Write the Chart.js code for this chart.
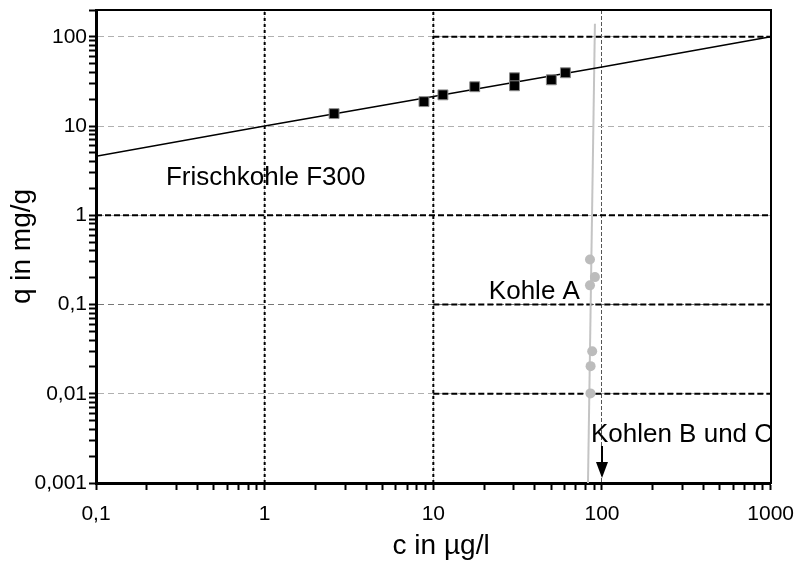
<!DOCTYPE html>
<html>
<head>
<meta charset="utf-8">
<script src="https://cdn.jsdelivr.net/npm/chart.js@4/dist/chart.umd.min.js"></script>
<style>
  html, body { margin: 0; padding: 0; background: #fff; }
  #wrap { width: 806px; height: 563px; }
</style>
</head>
<body>
<div id="wrap"><canvas id="c" width="806" height="563"></canvas></div>
<script>
// Adsorptionsisothermen: Beladung q (mg/g) über Konzentration c (µg/l)

// Frischkohle F300: Messwerte
const f300C = [2.58, 8.8, 11.4, 17.6, 30.3, 30.3, 50.1, 60.7];
const f300Q = [13.8, 18.8, 22.4, 27.6, 34.8, 28.3, 33.0, 39.6];
// Frischkohle F300: Freundlich-Isotherme
const f300FitC = [0.1, 1, 10, 100, 1000];
const f300FitQ = [4.6, 10, 21.5, 46, 100];

// Kohle A: Messwerte und Isotherme
const kohleAC = [84.9, 90.8, 84.9, 87.5, 85.6, 85.4];
const kohleAQ = [0.32, 0.203, 0.164, 0.030, 0.0204, 0.0101];
const kohleALineC = [82.6, 90.8];
const kohleALineQ = [0.001, 140];

// Hilfslinien (kräftig gestrichelt)
const hRefQ = [100, 1, 0.1, 0.01];
const hRefFromC = [10, 0.1, 10, 10];
const hRefToC = [1000, 1000, 1000, 1000];
const vRefC = [1, 10];

// Achsen
const xMin = 0.1, xMax = 1000;
const yMin = 0.001, yMax = 200;
const xTickValues = [0.1, 1, 10, 100, 1000];
const xTickLabels = ['0,1', '1', '10', '100', '1000'];
const yTickValues = [0.001, 0.01, 0.1, 1, 10, 100];
const yTickLabels = ['0,001', '0,01', '0,1', '1', '10', '100'];
const minorSteps = [2, 3, 4, 5, 6, 7, 8, 9];

// Beschriftungen im Diagramm
const noteTexts = ['Frischkohle F300', 'Kohle A', 'Kohlen B und C'];
const noteC = [0.26, 74, 86];
const noteQ = [2.6, 0.138, 0.00344];
const noteAlign = ['left', 'right', 'left'];
const arrowC = 100, arrowQFrom = 0.0026, arrowQTo = 0.00114;

const zip = (xs, ys) => xs.map((x, i) => ({x: x, y: ys[i]}));

function logTicks(majors, lo, hi) {
  const out = [];
  majors.forEach(m => {
    out.push(m);
    minorSteps.forEach(s => { const v = m * s; if (v <= hi * 1.0001) out.push(v); });
  });
  return out.filter(v => v >= lo * 0.9999 && v <= hi * 1.0001).sort((a, b) => a - b);
}
function isAt(v, list) { return list.some(t => Math.abs(Math.log10(v) - Math.log10(t)) < 1e-6); }
function labelFor(v, values, labels) {
  const i = values.findIndex(t => Math.abs(Math.log10(v) - Math.log10(t)) < 1e-6);
  return i >= 0 ? labels[i] : '';
}
// unbeschriftete Zwischenstriche bekommen eine winzige Schrift, damit sie keinen Rand beanspruchen
function tickFont(values) {
  return ctx => ({ family: FONT, size: (ctx.tick && isAt(ctx.tick.value, values)) ? 21 : 1 });
}

const FONT = '"Liberation Sans", Arial, Helvetica, sans-serif';

const datasets = [
  {
    label: 'F300 Messwerte', data: zip(f300C, f300Q), showLine: false,
    pointStyle: 'rect', pointRadius: 7, pointHoverRadius: 7,
    backgroundColor: '#000', borderColor: '#8a8a8a', borderWidth: 1, order: 0
  },
  {
    label: 'Kohle A Messwerte', data: zip(kohleAC, kohleAQ), showLine: false,
    pointStyle: 'circle', pointRadius: 5, pointHoverRadius: 5,
    backgroundColor: '#bcbcbc', borderColor: '#bcbcbc', borderWidth: 0, order: 1
  },
  {
    label: 'F300 Isotherme', data: zip(f300FitC, f300FitQ), showLine: true,
    pointRadius: 0, borderColor: '#000', borderWidth: 1.5, order: 2
  },
  {
    label: 'Kohle A Isotherme', data: zip(kohleALineC, kohleALineQ), showLine: true,
    pointRadius: 0, borderColor: '#c4c4c4', borderWidth: 2, order: 3
  }
];
hRefQ.forEach((q, i) => datasets.push({
  label: 'Hilfslinie q=' + q, data: zip([hRefFromC[i], hRefToC[i]], [q, q]), showLine: true,
  pointRadius: 0, borderColor: '#000', borderWidth: 2, borderDash: [6, 3], order: 10
}));
vRefC.forEach(c => datasets.push({
  label: 'Hilfslinie c=' + c, data: zip([c, c], [yMin, yMax]), showLine: true,
  pointRadius: 0, borderColor: '#000', borderWidth: 2, borderDash: [3, 3], order: 10
}));

const notesPlugin = {
  id: 'notes',
  afterDatasetsDraw(chart) {
    const {ctx, scales: {x, y}} = chart;
    ctx.save();
    ctx.fillStyle = '#000';
    ctx.font = '26px ' + FONT;
    ctx.textBaseline = 'middle';
    noteTexts.forEach((t, i) => {
      ctx.textAlign = noteAlign[i];
      ctx.fillText(t, x.getPixelForValue(noteC[i]), y.getPixelForValue(noteQ[i]));
    });
    // Pfeil "Kohlen B und C"
    const ax = x.getPixelForValue(arrowC);
    const y1 = y.getPixelForValue(arrowQFrom);
    const y2 = y.getPixelForValue(arrowQTo);
    ctx.strokeStyle = '#000';
    ctx.lineWidth = 2;
    ctx.beginPath();
    ctx.moveTo(ax, y1);
    ctx.lineTo(ax, y2 - 12);
    ctx.stroke();
    ctx.beginPath();
    ctx.moveTo(ax - 6, y2 - 16);
    ctx.lineTo(ax + 6, y2 - 16);
    ctx.lineTo(ax, y2);
    ctx.closePath();
    ctx.fill();
    ctx.restore();
  }
};

new Chart(document.getElementById('c'), {
  type: 'scatter',
  data: { datasets: datasets },
  plugins: [notesPlugin],
  options: {
    responsive: false,
    animation: false,
    devicePixelRatio: 1,
    layout: { padding: { top: 10, right: 33, left: 0, bottom: 0 } },
    plugins: { legend: { display: false }, tooltip: { enabled: false } },
    scales: {
      x: {
        type: 'logarithmic', position: 'bottom', min: xMin, max: xMax,
        afterBuildTicks: s => { s.ticks = logTicks(xTickValues, xMin, xMax).map(v => ({value: v})); },
        afterFit: s => { s.height = 80; },
        ticks: {
          autoSkip: false, maxRotation: 0, minRotation: 0, padding: 12,
          color: '#000', font: tickFont(xTickValues),
          callback: v => labelFor(v, xTickValues, xTickLabels)
        },
        grid: {
          color: ctx => {
            if (!ctx.tick) return 'rgba(0,0,0,0)';
            const v = ctx.tick.value;
            if (isAt(v, [100])) return '#555';
            if (isAt(v, vRefC)) return '#bbb';
            return 'rgba(0,0,0,0)';
          },
          lineWidth: 1, tickLength: 7, tickColor: '#000', tickWidth: 2, tickBorderDash: []
        },
        border: { display: true, color: '#000', width: 3, dash: [4, 2] },
        title: {
          display: true, text: '  c in µg/l', color: '#000',
          font: { family: FONT, size: 28 }, padding: { top: 0, bottom: 0 }
        }
      },
      y: {
        type: 'logarithmic', position: 'left', min: yMin, max: yMax,
        afterBuildTicks: s => { s.ticks = logTicks(yTickValues, yMin, yMax).map(v => ({value: v})); },
        afterFit: s => { s.width = 96; },
        ticks: {
          autoSkip: false, padding: 2, color: '#000', font: tickFont(yTickValues),
          callback: v => labelFor(v, yTickValues, yTickLabels)
        },
        grid: {
          color: ctx => {
            if (!ctx.tick) return 'rgba(0,0,0,0)';
            const v = ctx.tick.value;
            if (isAt(v, [0.1])) return '#777';
            if (isAt(v, [0.01, 1, 10, 100])) return '#b0b0b0';
            return 'rgba(0,0,0,0)';
          },
          lineWidth: 1, tickLength: 7, tickColor: '#000', tickWidth: 2, tickBorderDash: []
        },
        border: { display: true, color: '#000', width: 3, dash: [6, 4] },
        title: {
          display: true, text: 'q in mg/g', color: '#000',
          font: { family: FONT, size: 28 }, padding: { top: 5, bottom: 0 }
        }
      },
      x2: {
        type: 'logarithmic', position: 'top', min: xMin, max: xMax,
        afterFit: s => { s.height = 0; },
        ticks: { display: false },
        grid: { drawOnChartArea: false, drawTicks: false },
        border: { display: true, color: '#000', width: 2 }
      },
      y2: {
        type: 'logarithmic', position: 'right', min: yMin, max: yMax,
        afterFit: s => { s.width = 0; },
        ticks: { display: false },
        grid: { drawOnChartArea: false, drawTicks: false },
        border: { display: true, color: '#000', width: 2 }
      }
    }
  }
});
</script>
</body>
</html>
